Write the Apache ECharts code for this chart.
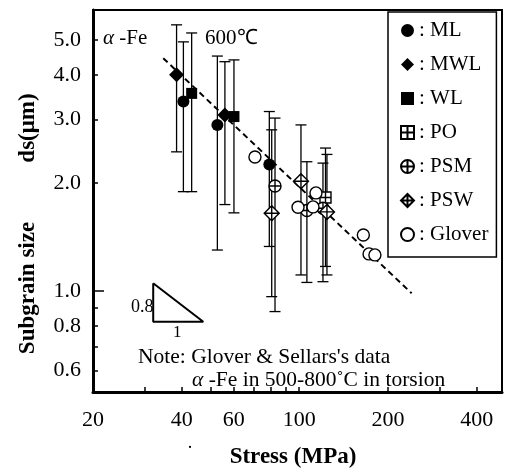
<!DOCTYPE html>
<html>
<head>
<meta charset="utf-8">
<script src="https://cdn.jsdelivr.net/npm/echarts@6/dist/echarts.min.js"></script>
<style>html,body{margin:0;background:#fff}#chart{width:505px;height:473px}</style>
</head>
<body>
<div id="chart"></div>
<script>
// axis ticks and labels (real units, log scales)
const xTickVals = [20, 30, 40, 50, 60, 70, 80, 90, 100, 200, 300, 400];
const xLabelVals = [20, 40, 60, 100, 200, 400];
const yTickVals = [0.6, 0.7, 0.8, 0.9, 1, 2, 3, 4, 5];
const yLabelVals = [0.6, 0.8, 1, 2, 3, 4, 5];

// stress (MPa), subgrain size (um), error bar low / high
const mlX = [40.5, 52.8, 79.2];
const mlY = [3.37, 2.90, 2.25];
const mlLo = [1.89, 1.30, 1.33];
const mlHi = [4.94, 4.51, 3.16];

const mwlX = [38.4, 56.0];
const mwlY = [4.0, 3.09];
const mwlLo = [2.44, 1.74];
const mwlHi = [5.51, 4.35];

const wlX = [43.2, 60.1];
const wlY = [3.55, 3.06];
const wlLo = [1.89, 1.65];
const wlHi = [5.23, 4.40];

const poX = [122.8];
const poY = [1.82];
const poLo = [1.17];
const poHi = [2.50];

const psmX = [82.8, 106.2, 120.4];
const psmY = [1.96, 1.675, 1.70];
const psmLo = [0.876, 1.056, 1.061];
const psmHi = [3.03, 2.29, 2.27];

const pswX = [80.7, 101.4, 124.2];
const pswY = [1.645, 2.02, 1.66];
const pswLo = [0.964, 1.108, 1.108];
const pswHi = [2.81, 2.90, 2.40];

const gloverX = [70.8, 99.1, 111.4, 114.0, 165, 172.5, 180.6];
const gloverY = [2.36, 1.71, 1.714, 1.875, 1.432, 1.268, 1.26];

// fitted line and slope triangle
const fitX = [34.6, 240.6];
const fitY = [4.45, 0.985];
const triX = [32.0, 32.0, 47.3, 32.0];
const triY = [1.05, 0.821, 0.821, 1.05];

const lg = Math.log10;
const serif = 'Liberation Serif';

function pts(xs, ys) { return xs.map((x, i) => [lg(x), lg(ys[i])]); }
function bars(xs, lo, hi) { return xs.map((x, i) => [lg(x), lg(lo[i]), lg(hi[i])]); }

const P_PO = 'path://M0,0 L20,0 L20,20 L0,20 Z M10,0 L10,20 M0,10 L20,10';
const P_PSM = 'path://M0,10 A10,10 0 1,1 20,10 A10,10 0 1,1 0,10 Z M10,0 L10,20 M0,10 L20,10';
const P_PSW = 'path://M10,0 L20,10 L10,20 L0,10 Z M10,0 L10,20 M0,10 L20,10';

const sets = [
  {name: 'ML', x: mlX, y: mlY, lo: mlLo, hi: mlHi, symbol: 'circle', size: 12, fill: '#000'},
  {name: 'MWL', x: mwlX, y: mwlY, lo: mwlLo, hi: mwlHi, symbol: 'diamond', size: 15, fill: '#000'},
  {name: 'WL', x: wlX, y: wlY, lo: wlLo, hi: wlHi, symbol: 'rect', size: 11, fill: '#000'},
  {name: 'PO', x: poX, y: poY, lo: poLo, hi: poHi, symbol: P_PO, size: 11, fill: '#fff'},
  {name: 'PSM', x: psmX, y: psmY, lo: psmLo, hi: psmHi, symbol: P_PSM, size: 12, fill: '#fff'},
  {name: 'PSW', x: pswX, y: pswY, lo: pswLo, hi: pswHi, symbol: P_PSW, size: 15, fill: '#fff'},
  {name: 'Glover', x: gloverX, y: gloverY, symbol: 'circle', size: 12, fill: '#fff'}
];

function errItem(params, api) {
  const x = api.value(0);
  const top = api.coord([x, api.value(2)]);
  const bot = api.coord([x, api.value(1)]);
  const w = 5.5;
  const st = {stroke: '#000', lineWidth: 1.3};
  return {type: 'group', children: [
    {type: 'line', shape: {x1: top[0], y1: top[1], x2: bot[0], y2: bot[1]}, style: st},
    {type: 'line', shape: {x1: top[0] - w, y1: top[1], x2: top[0] + w, y2: top[1]}, style: st},
    {type: 'line', shape: {x1: bot[0] - w, y1: bot[1], x2: bot[0] + w, y2: bot[1]}, style: st}
  ]};
}

const series = [];
sets.forEach(s => {
  if (s.lo) {
    series.push({
      type: 'custom', renderItem: errItem, z: 1, silent: true,
      data: bars(s.x, s.lo, s.hi)
    });
  }
});
series.push({
  type: 'line', data: pts(fitX, fitY), symbol: 'none', z: 2, silent: true,
  lineStyle: {color: '#000', width: 2, type: [6, 4]}
});
series.push({
  type: 'line', data: pts(triX, triY), symbol: 'none', z: 2, silent: true,
  lineStyle: {color: '#000', width: 2}
});
sets.forEach(s => {
  series.push({
    name: s.name, type: 'scatter', z: 3,
    symbol: s.symbol, symbolSize: s.size,
    itemStyle: {color: s.fill, borderColor: '#000', borderWidth: s.fill === '#fff' ? 1.4 : 0, opacity: 1},
    data: pts(s.x, s.y)
  });
});

const chart = echarts.init(document.getElementById('chart'));
chart.setOption({
  animation: false,
  grid: {left: 93, right: 3, top: 10, bottom: 81, show: true, borderColor: '#000', borderWidth: 2},
  xAxis: {
    type: 'value', min: lg(20), max: lg(487),
    splitLine: {show: false},
    axisLine: {onZero: false, lineStyle: {color: '#000', width: 3}},
    axisTick: {inside: true, length: 5, lineStyle: {color: '#000', width: 1.5}, customValues: xTickVals.map(lg)},
    axisLabel: {
      customValues: xLabelVals.map(lg), margin: 17,
      formatter: v => String(Math.round(Math.pow(10, v))),
      fontFamily: serif, fontSize: 22, color: '#000'
    }
  },
  yAxis: [{
    type: 'value', min: lg(0.523), max: lg(6.06),
    splitLine: {show: false},
    axisLine: {onZero: false, lineStyle: {color: '#000', width: 3}},
    axisTick: {inside: true, length: 5, lineStyle: {color: '#000', width: 1.5}, customValues: yTickVals.map(lg)},
    axisLabel: {
      customValues: yLabelVals.map(lg), margin: 12,
      formatter: v => Math.pow(10, v).toFixed(1),
      fontFamily: serif, fontSize: 22, color: '#000'
    }
  }, {
    type: 'value', min: lg(0.523), max: lg(6.06), position: 'left',
    splitLine: {show: false}, axisLine: {show: false, onZero: false}, axisLabel: {show: false},
    axisTick: {inside: true, length: 11, lineStyle: {color: '#000', width: 1.5}, customValues: [0]}
  }],
  legend: {
    orient: 'vertical', left: 388, top: 12,
    data: sets.map(s => ({name: s.name, icon: s.symbol})),
    formatter: n => ': ' + n,
    itemWidth: 13, itemHeight: 13, itemGap: 13,
    padding: [8, 8, 12, 12],
    borderColor: '#000', borderWidth: 1.5, backgroundColor: '#fff',
    selectedMode: false,
    textStyle: {fontFamily: serif, fontSize: 21, color: '#000'}
  },
  graphic: [
    {type: 'text', left: 103, top: 28, style: {
      text: '{i|α} -Fe', fontFamily: serif, fontSize: 21, fill: '#000',
      rich: {i: {fontFamily: serif, fontStyle: 'italic', fontSize: 21}}}},
    {type: 'text', left: 205, top: 28, style: {text: '600℃', fontFamily: serif, fontSize: 21, fill: '#000'}},
    {type: 'text', left: 131, top: 298, style: {text: '0.8', fontFamily: serif, fontSize: 18, fill: '#000'}},
    {type: 'text', left: 173, top: 324, style: {text: '1', fontFamily: serif, fontSize: 17, fill: '#000'}},
    {type: 'text', left: 138, top: 346, style: {text: "Note: Glover & Sellars's data", fontFamily: serif, fontSize: 21.5, fill: '#000'}},
    {type: 'text', left: 192, top: 369, style: {
      text: '{i|α} -Fe in 500-800˚C in torsion', fontFamily: serif, fontSize: 21.5, fill: '#000',
      rich: {i: {fontFamily: serif, fontStyle: 'italic', fontSize: 21.5}}}},
    {type: 'text', x: 28, y: 288, rotation: Math.PI / 2, style: {
      text: 'Subgrain size', fontFamily: serif, fontWeight: 'bold', fontSize: 23, fill: '#000',
      align: 'center', verticalAlign: 'middle'}},
    {type: 'text', x: 28, y: 128, rotation: Math.PI / 2, style: {
      text: 'ds(μm)', fontFamily: serif, fontWeight: 'bold', fontSize: 23, fill: '#000',
      align: 'center', verticalAlign: 'middle'}},
    {type: 'text', x: 293, y: 457, style: {
      text: 'Stress (MPa)', fontFamily: serif, fontWeight: 'bold', fontSize: 23, fill: '#000',
      align: 'center', verticalAlign: 'middle'}},
    {type: 'text', x: 190, y: 448, style: {text: '·', fontFamily: serif, fontSize: 18, fill: '#000',
      align: 'center', verticalAlign: 'middle'}}
  ],
  series: series
});
</script>
</body>
</html>
